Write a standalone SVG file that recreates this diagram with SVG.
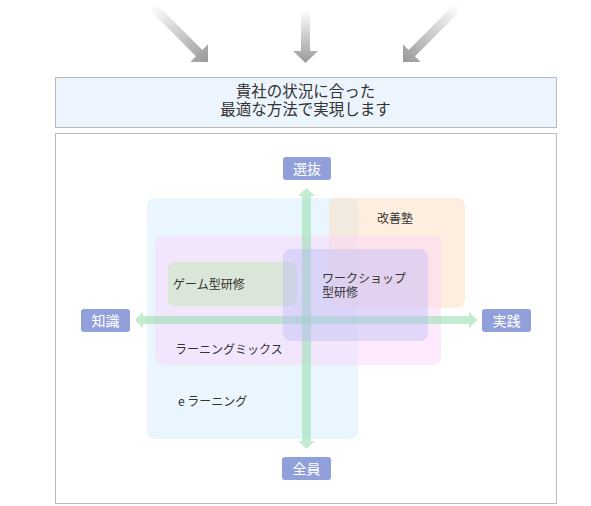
<svg xmlns="http://www.w3.org/2000/svg" width="591" height="506" viewBox="0 0 591 506">
<style>
text{font-family:"Noto Sans CJK JP","Noto Sans",sans-serif;}
.hd{font-size:15.5px;fill:#333;text-anchor:middle;}
.lb{font-size:14px;fill:#fff;text-anchor:middle;}
.rg{font-size:12px;fill:#333;}
.lbox{fill:#919fdb;}
.ax{fill:#9bdfb2;opacity:0.6;}
.top{fill:url(#fade);}
</style>
<defs>
<linearGradient id="fade" x1="0" y1="0" x2="0" y2="1">
<stop offset="0" stop-color="#ffffff"/>
<stop offset="1" stop-color="#999999"/>
</linearGradient>
</defs>
<rect width="591" height="506" fill="#fff"/>
<g id="top-arrows">
<polygon class="top" transform="translate(208,62) rotate(-45)" points="-4.5,-79 4.5,-79 4.5,-12.5 12.5,-12.5 0,0 -12.5,-12.5 -4.5,-12.5"/>
<polygon class="top" transform="translate(305.5,63)" points="-4.5,-53 4.5,-53 4.5,-12 12.5,-12 0,0 -12.5,-12 -4.5,-12"/>
<polygon class="top" transform="translate(403,62) rotate(45)" points="-4.5,-79 4.5,-79 4.5,-12.5 12.5,-12.5 0,0 -12.5,-12.5 -4.5,-12.5"/>
</g>
<g id="header">
<rect x="55.5" y="77.5" width="501" height="50" fill="#ecf4fe" stroke="#bbbbbb"/>
<text class="hd" x="305.5" y="97">貴社の状況に合った</text>
<text class="hd" x="305.5" y="114.5">最適な方法で実現します</text>
</g>
<rect x="55.5" y="133.5" width="501" height="370" fill="#fff" stroke="#bbbbbb"/>
<g id="elearning">
<rect x="147" y="198" width="211" height="241" rx="8" fill="#d4eefd" fill-opacity="0.5"/>
<text class="rg" x="178" y="406">e ラーニング</text>
</g>
<g id="kaizenjuku">
<rect x="329" y="198" width="136" height="110" rx="8" fill="#fdddbf" fill-opacity="0.5"/>
<text class="rg" x="377" y="223">改善塾</text>
</g>
<g id="learningmix">
<rect x="155" y="236" width="286" height="129" rx="8" fill="#fbd5f9" fill-opacity="0.5"/>
<text class="rg" x="175" y="354">ラーニングミックス</text>
</g>
<g id="game">
<rect x="168" y="262" width="129" height="44" rx="7" fill="#c8e6c0" fill-opacity="0.6"/>
<text class="rg" x="173" y="289">ゲーム型研修</text>
</g>
<g id="connectors">
<polygon class="ax" points="302,196 298,196 306.5,188 315,196 311,196 311,441 315,441 306.5,449 298,441 302,441"/>
<polygon class="ax" points="143,316 143,312 135,320 143,328 143,324 469,324 469,328 477,320 469,312 469,316"/>
</g>
<g id="workshop">
<rect x="283" y="249" width="145" height="92" rx="8" fill="#b8b8f5" fill-opacity="0.4"/>
<text class="rg" x="322" y="283">ワークショップ</text>
<text class="rg" x="322" y="297">型研修</text>
</g>
<g id="senbatsu">
<rect class="lbox" x="283" y="157" width="48" height="23" rx="3"/>
<text class="lb" x="307" y="173.5">選抜</text>
</g>
<g id="zenin">
<rect class="lbox" x="282" y="457" width="49" height="23" rx="3"/>
<text class="lb" x="306.5" y="473.5">全員</text>
</g>
<g id="chishiki">
<rect class="lbox" x="81" y="309" width="49" height="23" rx="3"/>
<text class="lb" x="105.5" y="325.5">知識</text>
</g>
<g id="jissen">
<rect class="lbox" x="482" y="309" width="49" height="23" rx="3"/>
<text class="lb" x="506.5" y="325.5">実践</text>
</g>
</svg>
